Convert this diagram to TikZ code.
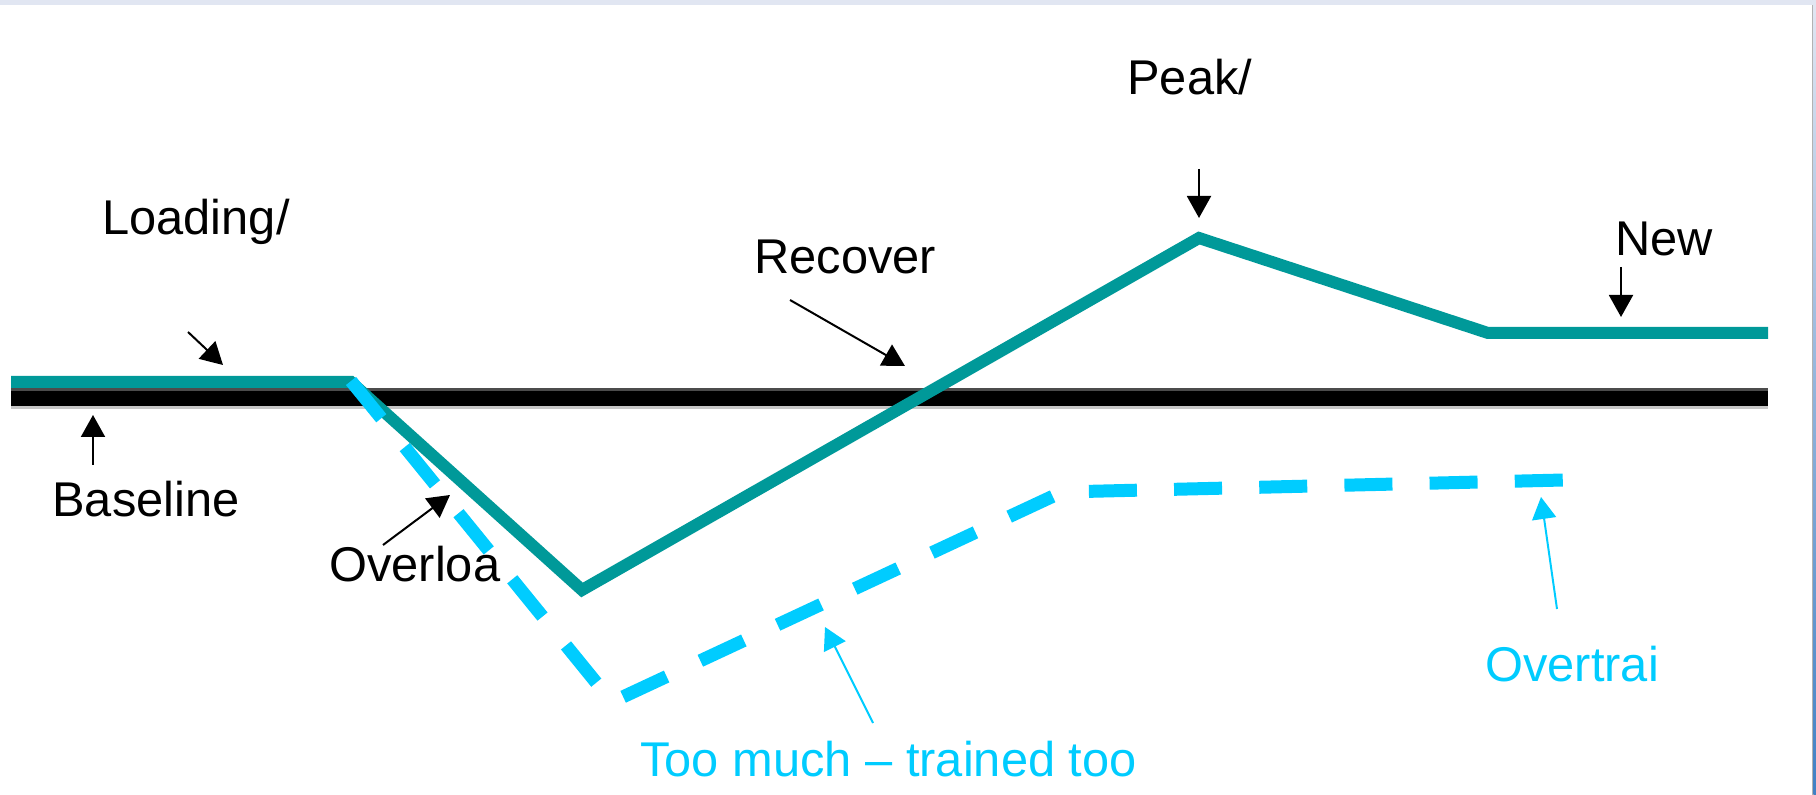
\documentclass[tikz,border=0pt]{standalone}
\usepackage{fontspec}
\setmainfont{Liberation Sans}
\usetikzlibrary{arrows.meta}
\definecolor{tealline}{RGB}{0,153,153}
\definecolor{cyanline}{RGB}{0,204,255}
\definecolor{topband}{RGB}{225,230,242}
\begin{document}
\begin{tikzpicture}[x=0.5pt,y=-0.5pt,
  lbl/.style={anchor=base west,inner sep=0pt,font=\fontsize{24.4}{29}\selectfont},
  cyanlbl/.style={lbl,text=cyanline},
  ptr/.style={line width=1pt,-{Triangle[length=11pt,width=12pt]}},
  cyanptr/.style={ptr,draw=cyanline,fill=cyanline},
  curve/.style={line width=6pt,draw=tealline,line join=miter},
  dashcurve/.style={line width=6.5pt,draw=cyanline,dash pattern=on 24pt off 18.6pt,line join=miter}]
\useasboundingbox (0,0) rectangle (1816,795);
\fill[white] (0,0) rectangle (1816,795);
% frame
\fill[topband] (0,0) rectangle (1816,5);
\fill[gray!60] (1812,5) rectangle (1813.5,795);
\shade[top color=topband,bottom color={rgb,255:red,64;green,128;blue,196}] (1813.5,5) rectangle (1816,795);
% baseline bar
\fill[gray!45] (11,388) rectangle (1768,409);
\fill[black!70] (11,388) rectangle (1768,391);
\fill[black] (11,391) rectangle (1768,406);
% teal curve
\coordinate (t0) at (11,382);
\coordinate (t1) at (351,382);
\coordinate (t2) at (582,590);
\coordinate (t3) at (1199,238);
\coordinate (t4) at (1488,333);
\coordinate (t5) at (1768,333);
\draw[curve] (t0) -- (t1) -- (t2) -- (t3) -- (t4) -- (t5);
% dashed overtraining curve
\coordinate (d0) at (351,381);
\coordinate (d1) at (612,702);
\coordinate (d2) at (1062,492);
\coordinate (d3) at (1564,480);
\draw[dashcurve] (d0) -- (d1) -- (d2) -- (d3);
% labels
\node[lbl] (loading) at (102,235) {Loading/};
\node[lbl] (recover) at (754,274) {Recover};
\node[lbl] (peak) at (1127,95) {Peak/};
\node[lbl] (new) at (1615,256) {New};
\node[lbl] (baseline) at (52,517) {Baseline};
\node[lbl] (overload) at (329,582) {Overloa};
\node[cyanlbl] (toomuch) at (640,777) {Too much – trained too};
\node[cyanlbl] (overtrain) at (1485,682) {Overtrai};
% pointer ends
\coordinate (la) at (188,332); \coordinate (lb) at (223,365);
\coordinate (ba) at (93,465);  \coordinate (bb) at (93,415);
\coordinate (oa) at (383,545); \coordinate (ob) at (450,495);
\coordinate (ra) at (790,300); \coordinate (rb) at (905,366);
\coordinate (pa) at (1199,169); \coordinate (pb) at (1199,218);
\coordinate (na) at (1621,267); \coordinate (nb) at (1621,317);
\coordinate (ta) at (873,723); \coordinate (tb) at (825,627);
\coordinate (va) at (1557,609); \coordinate (vb) at (1541,497);
\draw[ptr] (la) -- (lb);
\draw[ptr] (ba) -- (bb);
\draw[ptr] (oa) -- (ob);
\draw[ptr] (ra) -- (rb);
\draw[ptr] (pa) -- (pb);
\draw[ptr] (na) -- (nb);
\draw[cyanptr] (ta) -- (tb);
\draw[cyanptr] (va) -- (vb);
\end{tikzpicture}
\end{document}
